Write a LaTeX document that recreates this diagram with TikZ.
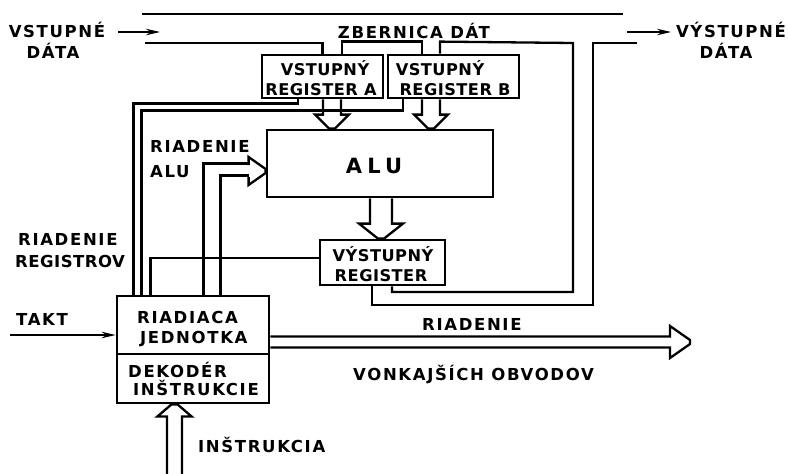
\documentclass[tikz,border=0pt]{standalone}
\usepackage{fontspec}
\setmainfont{DejaVu Sans}
\newfontfamily\lblfont{DejaVu Sans}[LetterSpace=10]
\newfontfamily\regfont{DejaVu Sans}[LetterSpace=3]
\newfontfamily\alufont{DejaVu Sans}[LetterSpace=25]
\usetikzlibrary{arrows.meta,calc}

% vertical hollow wide arrow: x-centre, from, to, shaft half width, head half width, signed head length
\newcommand\warrowv[6]{%
  \draw[wire] let \p1=(#2), \p2=(#3) in
    ({(#1-#4)*1pt},\y1) -- ({(#1-#4)*1pt},{\y2+(#6)*1pt}) -- ({(#1-#5)*1pt},{\y2+(#6)*1pt})
    -- ({(#1-3)*1pt},\y2) -- ({(#1+3)*1pt},\y2) -- ({(#1+#5)*1pt},{\y2+(#6)*1pt})
    -- ({(#1+#4)*1pt},{\y2+(#6)*1pt}) -- ({(#1+#4)*1pt},\y1);}
% horizontal hollow wide arrow (pointing right): y-centre (px), from, to, shaft half, head half, head length
\newcommand\warrowh[6]{%
  \draw[wire] let \p1=(#2), \p2=(#3) in
    (\x1,{(#4-#1)*1pt}) -- ({\x2-(#6)*1pt},{(#4-#1)*1pt}) -- ({\x2-(#6)*1pt},{(#5-#1)*1pt})
    -- (\x2,{(2-#1)*1pt}) -- (\x2,{(-2-#1)*1pt}) -- ({\x2-(#6)*1pt},{(-#5-#1)*1pt})
    -- ({\x2-(#6)*1pt},{(-#4-#1)*1pt}) -- (\x1,{(-#4-#1)*1pt});}

\begin{document}
\begin{tikzpicture}[x=1pt,y=-1pt,
  wire/.style={line width=2.3pt,line join=miter},
  box/.style={draw,line width=2.8pt,inner sep=0pt},
  lbl/.style={inner sep=0pt,font=\lblfont\bfseries\fontsize{16.5}{20}\selectfont},
  rlbl/.style={inner sep=0pt,font=\regfont\bfseries\fontsize{16.2}{20}\selectfont},
  sig/.style={line width=1.7pt,-{Stealth[length=14pt,width=6.5pt]}}]
\useasboundingbox (0,0) rectangle (788,474);
\fill[white] (0,0) rectangle (788,474);

% boxes
\node[box,minimum width=121pt,minimum height=43pt] (regA) at (322.5,76.5) {};
\node[box,minimum width=131pt,minimum height=43pt] (regB) at (453.5,76.5) {};
\node[box,minimum width=226pt,minimum height=67pt] (alu) at (380,163.5) {};
\node[box,minimum width=125pt,minimum height=45pt] (outreg) at (382.5,262.5) {};
\node[box,minimum width=152pt,minimum height=58pt] (ctrlA) at (193,325) {};
\node[box,minimum width=152pt,minimum height=49pt] (ctrlB) at (193,378.5) {};

% box texts
\node[rlbl,anchor=base] (tA1) at (325,75) {VSTUPNÝ};
\node[rlbl,anchor=base] (tA2) at (321,95) {REGISTER A};
\node[rlbl,anchor=base] (tB1) at (440,75) {VSTUPNÝ};
\node[rlbl,anchor=base] (tB2) at (455,95) {REGISTER B};
\node[rlbl,anchor=base] (tO1) at (383,261) {VÝSTUPNÝ};
\node[rlbl,anchor=base] (tO2) at (381,281) {REGISTER};
\node[inner sep=0pt,font=\alufont\bfseries\fontsize{21}{24}\selectfont,anchor=base] (tALU) at (374,173) {ALU};
\node[lbl,anchor=base west] (tC1) at (137,323) {RIADIACA};
\node[lbl,anchor=base west] (tC2) at (140,343) {JEDNOTKA};
\node[lbl,anchor=base west] (tD1) at (128,377) {DEKODÉR};
\node[lbl,anchor=base west] (tD2) at (133,395) {INŠTRUKCIE};

% free labels
\node[lbl,anchor=base] (lIn1) at (57,37) {VSTUPNÉ};
\node[lbl,anchor=base] (lIn2) at (53,58) {DÁTA};
\node[lbl,anchor=base] (lBus) at (414,38) {ZBERNICA DÁT};
\node[lbl,anchor=base] (lOut1) at (731,37) {VÝSTUPNÉ};
\node[lbl,anchor=base] (lOut2) at (726,58) {DÁTA};
\node[lbl,anchor=base west] (lAlu1) at (150,152) {RIADENIE};
\node[lbl,anchor=base west] (lAlu2) at (150,177) {ALU};
\node[lbl,anchor=base west] (lReg1) at (18,245) {RIADENIE};
\node[rlbl,anchor=base west,font=\regfont\bfseries\fontsize{16.5}{20}\selectfont] (lReg2) at (15,267) {REGISTROV};
\node[lbl,anchor=base west] (lTakt) at (16,325) {TAKT};
\node[lbl,anchor=base west] (lInstr) at (198,452) {INŠTRUKCIA};
\node[lbl,anchor=base west] (lExt1) at (422,330) {RIADENIE};
\node[lbl,anchor=base west] (lExt2) at (353,380) {VONKAJŠÍCH OBVODOV};

% data bus
\coordinate (busTL) at (142,14);
\coordinate (busTR) at (623,14);
\draw[wire] (busTL) -- (busTR);
\coordinate (busBL) at (145,43);
\draw[wire] (busBL) -| (regA.north);
\draw[wire] ([xshift=19.5pt]regA.north) -- ++(0,-12) -| ([xshift=-31.5pt]regB.north);
\coordinate (busR1) at (573,43);
\coordinate (busR2) at (573,292);
\draw[wire] ([xshift=-13.5pt]regB.north) -- ++(0,-12) -- (busR1) -- (busR2) -| ([xshift=9.5pt]outreg.south);
\coordinate (busR3) at (593,305);
\coordinate (busR4) at (593,43);
\coordinate (busR5) at (637,43);
\draw[wire] ([xshift=-10.5pt]outreg.south) |- (busR3) -- (busR4) -- (busR5);

% data in / out
\coordinate (dinA) at (118,32);
\coordinate (dinB) at (160,32);
\draw[sig] (dinA) -- (dinB);
\coordinate (doutA) at (627,32);
\coordinate (doutB) at (671,32);
\draw[sig] (doutA) -- (doutB);

% clock
\coordinate (takt) at (10,335);
\draw[sig] (takt) -- ([yshift=-10pt]ctrlA.west);

% control lines
\draw[wire] ([xshift=18pt]ctrlA.north west) -- ++(0,-191) -| ([xshift=-24.5pt]regA.south);
\draw[wire] ([xshift=26pt]ctrlA.north west) -- ++(0,-184) -| ([xshift=-50.5pt]regB.south);
\draw[wire] ([xshift=35pt]ctrlA.north west) |- ([yshift=4.5pt]outreg.west);
\draw[wire] ([xshift=88pt]ctrlA.north west) -- ++(0,-131) -- ++(45,0);
\draw[wire] ([xshift=105pt]ctrlA.north west) -- ++(0,-119) -- ++(28,0);
\draw[wire] let \p1=(alu.west) in
  ({\x1-17pt},{\y1-1.5pt}) -- ({\x1-17pt},{\y1+6.5pt}) -- (\x1,{\y1-5.5pt})
  -- (\x1,{\y1-9.5pt}) -- ({\x1-17pt},{\y1-21.5pt}) -- ({\x1-17pt},{\y1-13.5pt});

% wide arrows
\warrowv{332}{regA.south}{alu.north}{9}{17}{14}
\warrowv{431}{regB.south}{alu.north}{9}{17}{14}
\warrowv{381}{alu.south}{outreg.north}{11}{22}{15}
\coordinate (instr) at (174.5,474);
\warrowv{174.5}{instr}{ctrlB.south}{7.5}{17}{-12}
\coordinate (ext) at (690,342);
\warrowh{342}{ctrlA.east}{ext}{5.5}{16}{20}
\end{tikzpicture}
\end{document}
